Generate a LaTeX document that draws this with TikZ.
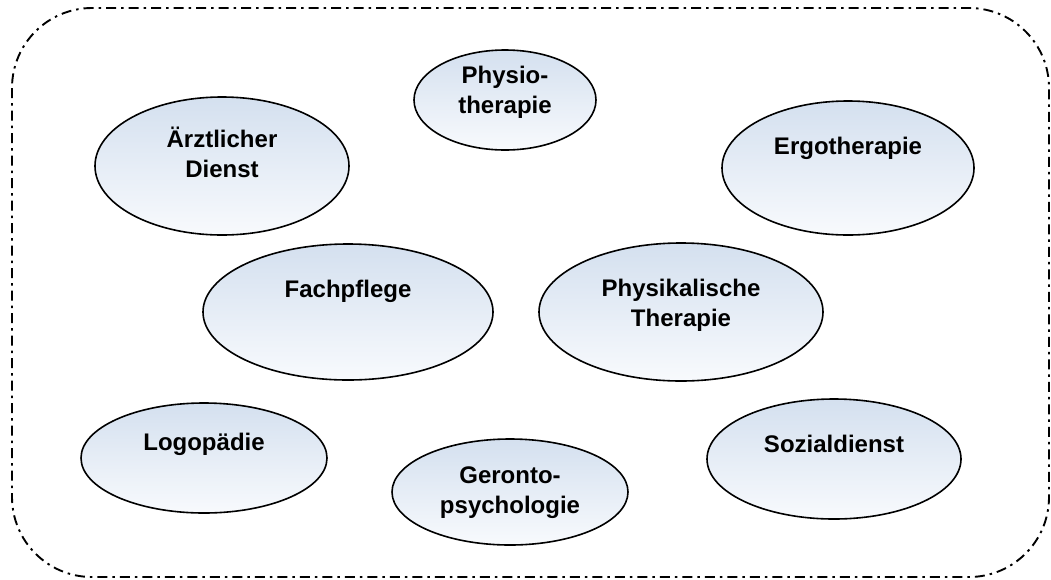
\documentclass[tikz,border=0pt]{standalone}
\usepackage{fontspec}
\setmainfont{Liberation Sans}
\usetikzlibrary{shapes.geometric}
\begin{document}
\begin{tikzpicture}[x=1pt,y=-1pt,
  blob/.style={ellipse, draw=black, line width=1.6pt, inner sep=0pt,
    top color={rgb,255:red,212;green,224;blue,239}, bottom color={rgb,255:red,248;green,250;blue,253}},
  txt/.style={align=center, font=\fontsize{24}{30}\selectfont\bfseries, text=black}]
\useasboundingbox (0,0) rectangle (1051,579);
\draw[line width=1.9pt, dash pattern=on 10pt off 5pt on 2.5pt off 5pt, rounded corners=80pt] (12,8) rectangle (1049,577);
% ellipses
\node[blob, minimum width=182pt, minimum height=100pt] (phy) at (505,100) {};
\node[blob, minimum width=254pt, minimum height=138pt] (arz) at (222,166) {};
\node[blob, minimum width=252pt, minimum height=134pt] (erg) at (848,168) {};
\node[blob, minimum width=290pt, minimum height=136pt] (fac) at (348,312) {};
\node[blob, minimum width=284pt, minimum height=138pt] (pht) at (681,312) {};
\node[blob, minimum width=246pt, minimum height=110pt] (log) at (204,458) {};
\node[blob, minimum width=236pt, minimum height=106pt] (ger) at (510,492) {};
\node[blob, minimum width=254pt, minimum height=120pt] (soz) at (834,459) {};
% texts
\node[txt] (tphy) at (505,92) {Physio-\\therapie};
\node[txt] (tarz) at (222,152) {Ärztlicher\\Dienst};
\node[txt] (terg) at (848,148) {Ergotherapie};
\node[txt] (tfac) at (348,291) {Fachpflege};
\node[txt] (tpht) at (681,305) {Physikalische\\Therapie};
\node[txt] (tlog) at (204,444) {Logopädie};
\node[txt] (tger) at (510,493) {Geronto-\\psychologie};
\node[txt] (tsoz) at (834,444) {Sozialdienst};
\end{tikzpicture}
\end{document}
